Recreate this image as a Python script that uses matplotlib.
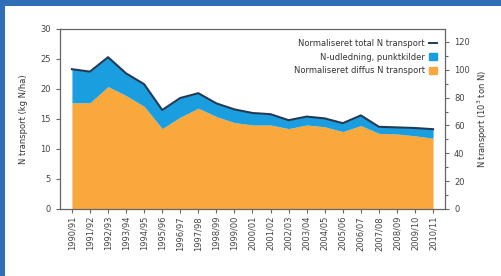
import numpy as np
import matplotlib
matplotlib.use("Agg")
import matplotlib.pyplot as plt
from matplotlib.patches import Rectangle
from matplotlib.lines import Line2D
from matplotlib.ticker import MultipleLocator

seasons = ['1990/91', '1991/92', '1992/93', '1993/94', '1994/95', '1995/96', '1996/97',
           '1997/98', '1998/99', '1999/00', '2000/01', '2001/02', '2002/03', '2003/04',
           '2004/05', '2005/06', '2006/07', '2007/08', '2008/09', '2009/10', '2010/11']
total_n = [23.3, 22.9, 25.3, 22.6, 20.8, 16.5, 18.5, 19.3, 17.6, 16.6, 16.0,
           15.8, 14.8, 15.4, 15.1, 14.3, 15.6, 13.7, 13.6, 13.5, 13.3]
diffus_n = [17.7, 17.7, 20.4, 18.9, 17.1, 13.4, 15.3, 16.8, 15.4, 14.4, 14.0,
            14.0, 13.4, 14.0, 13.7, 12.9, 13.9, 12.6, 12.5, 12.2, 11.8]
legend_labels = ['Normaliseret total N transport', 'N-udledning, punktkilder',
                 'Normaliseret diffus N transport']

orange = '#f9a83c'
blue = '#1b9ee0'
navy = '#233a55'
grey = '#666666'

fig = plt.figure(figsize=(5.01, 2.76), dpi=100)
fig.patch.set_facecolor('#2f6fb6')
# white panel behind the chart, blue frame left and top
panel = Rectangle((5 / 501, 0), 1, 270 / 276, transform=fig.transFigure,
                  facecolor='white', edgecolor='none', zorder=-10)
fig.add_artist(panel)

ax = fig.add_axes([60 / 501, 67 / 276, 385 / 501, 180 / 276])
ax.set_zorder(1)
ax.patch.set_alpha(0)
x = np.arange(len(seasons))
ax.fill_between(x, 0, diffus_n, color=orange, lw=0)
ax.fill_between(x, diffus_n, total_n, color=blue, lw=0)
ax.plot(x, total_n, color=navy, lw=1.5)

ax.set_xlim(-0.66, 20.66)
ax.set_ylim(0, 30)
ax.set_xticks(x)
ax.set_xticklabels(seasons, rotation=90, fontsize=6, color='#444444')
ax.yaxis.set_major_locator(MultipleLocator(5))
ax.tick_params(axis='y', labelsize=6, colors=grey, labelcolor='#444444', length=3, width=0.8)
ax.tick_params(axis='x', colors=grey, labelcolor='#444444', length=3, width=0.8, pad=2)
for s in ax.spines.values():
    s.set_color(grey)
    s.set_linewidth(0.9)
ax.set_ylabel('N transport (kg N/ha)', fontsize=6, color='#333333', labelpad=9)

ax2 = ax.twinx()
ax2.set_ylim(0, 30 * 4.31)
ax2.yaxis.set_major_locator(MultipleLocator(20))
ax2.yaxis.set_minor_locator(MultipleLocator(10))
ax2.tick_params(axis='y', which='both', labelsize=6, colors=grey, labelcolor='#444444', width=0.8)
ax2.tick_params(axis='y', which='major', length=3)
ax2.tick_params(axis='y', which='minor', length=2)
for s in ax2.spines.values():
    s.set_visible(False)
ax2.set_ylabel('N transport (10$^3$ ton N)', fontsize=6, color='#333333', labelpad=4)

handles = [Line2D([], [], color=navy, lw=1.4),
           Rectangle((0, 0), 1, 1, color=blue),
           Rectangle((0, 0), 1, 1, color=orange)]
leg = ax.legend(handles, legend_labels, loc='upper right', fontsize=6, frameon=False,
                markerfirst=False, handlelength=1.0, handleheight=0.9, handletextpad=0.5,
                labelspacing=0.55, bbox_to_anchor=(1.0, 0.985))
for t in leg.get_texts():
    t.set_color('#333333')

fig.savefig('out.png', dpi=100, facecolor=fig.get_facecolor())
